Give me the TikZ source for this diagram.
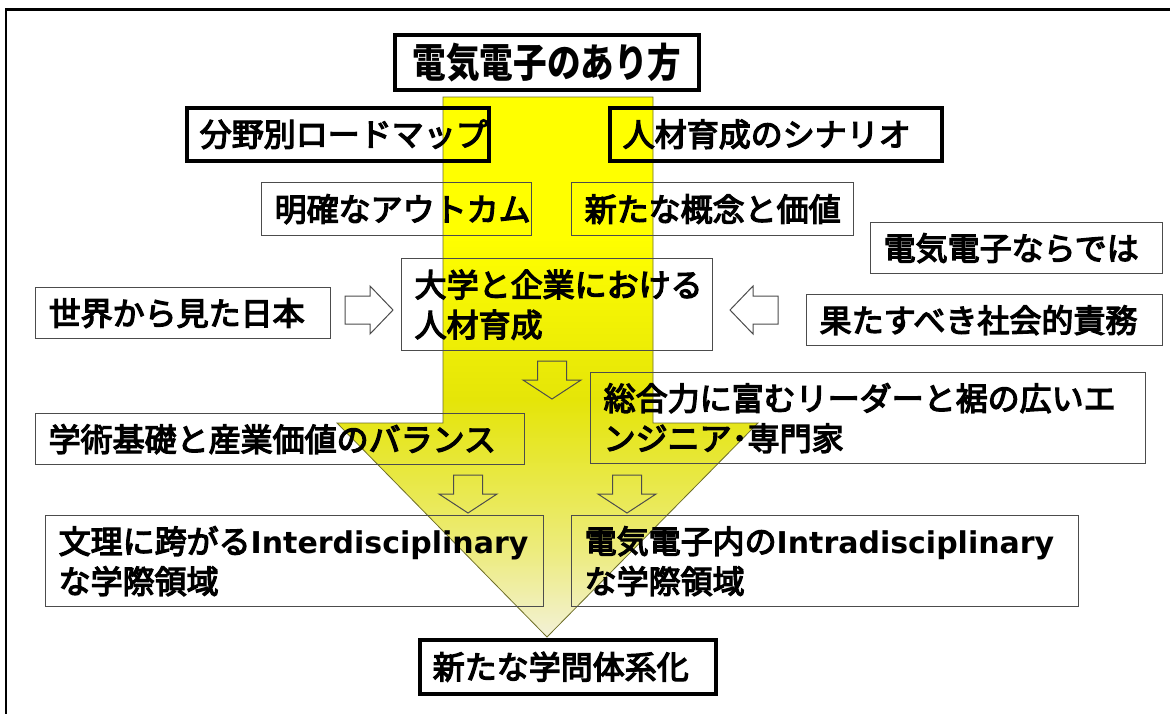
\documentclass[tikz,border=0pt]{standalone}
\usepackage{fontspec}
\setmainfont{Noto Sans CJK JP}
\newfontfamily\jp{Noto Sans CJK JP}[FakeBold=4]
\newfontfamily\jpcond{Noto Sans CJK JP}[FakeStretch=0.84]
\newfontfamily\latb{DejaVu Sans}
\definecolor{ylw}{RGB}{255,255,0}
\definecolor{ymid}{RGB}{229,229,8}
\definecolor{ylow}{RGB}{232,232,66}
\definecolor{ypale}{RGB}{243,241,215}
\definecolor{olive}{RGB}{110,110,40}
\pgfdeclareverticalshading{bigarrow}{100bp}{color(0bp)=(ypale); color(25bp)=(ypale); color(33bp)=(ylow!60!ypale); color(40bp)=(ylow); color(47bp)=(ymid); color(62bp)=(ylw); color(100bp)=(ylw)}
\begin{document}
\begin{tikzpicture}[x=1pt,y=-1pt,
  box/.style={draw=black!70, line width=1.3pt, inner xsep=13pt, inner ysep=0pt,
    anchor=north west, align=left, font=\jp\fontsize{32}{40}\selectfont},
  tbox/.style={box, draw=black, line width=3.5pt},
  hollow/.style={draw=black!70, line width=1pt, line join=miter},
  pics/downarrow/.style={code={\draw[hollow] (-14.5,0) -- (14.5,0) -- (14.5,19) -- (29,19) -- (0,38) -- (-29,19) -- (-14.5,19) -- cycle;}},
  pics/rightarrow/.style={code={\draw[hollow] (0,-14) -- (25,-14) -- (25,-24) -- (48,0) -- (25,24) -- (25,14) -- (0,14) -- cycle;}},
  pics/leftarrow/.style={code={\draw[hollow] (0,-14) -- (-25,-14) -- (-25,-24) -- (-48,0) -- (-25,24) -- (-25,14) -- (0,14) -- cycle;}}
]
\useasboundingbox (0,0) rectangle (1170,713);
\clip (0,0) rectangle (1170,713);
\fill[white] (0,0) rectangle (1170,713);
% outer frame
\draw[line width=2.5pt] (6,720) -- (6,9.5) -- (1180,9.5);
% big arrow
\shade[shading=bigarrow, draw=olive, line width=0.8pt]
  (443,97) -- (653,97) -- (653,423) -- (758,423) -- (547,637) -- (337,423) -- (443,423) -- cycle;
% boxes
\node[tbox, line width=4pt, minimum width=304, minimum height=55, text width=278, align=center,
  font=\jpcond\bfseries\fontsize{40}{44}\selectfont] (title) at (393,33) {電気電子のあり方};
\node[tbox, minimum width=302, minimum height=53, text width=276] (road) at (185,106) {分野別ロードマップ};
\node[tbox, minimum width=332, minimum height=53, text width=306] (scen) at (608,106) {人材育成のシナリオ};
\node[box, minimum width=270, minimum height=53, text width=244] (out) at (261,182) {明確なアウトカム};
\node[box, minimum width=282, minimum height=53, text width=256] (conc) at (571,182) {新たな概念と価値};
\node[box, minimum width=292, minimum height=51, text width=266] (denki) at (870,222) {電気電子ならでは};
\node[box, minimum width=295, minimum height=51, text width=269] (world) at (35,287) {世界から見た日本};
\node[box, minimum width=311, minimum height=92, text width=285] (univ) at (401,258) {大学と企業における\\人材育成};
\node[box, minimum width=356, minimum height=51, text width=330] (duty) at (806,294) {果たすべき社会的責務};
\node[box, minimum width=555, minimum height=91, text width=529] (lead) at (590,372) {総合力に富むリーダーと裾の広いエ\\ンジニア･専門家};
\node[box, minimum width=489, minimum height=51, text width=463] (bal) at (35,413) {学術基礎と産業価値のバランス};
\node[box, minimum width=498, minimum height=91, text width=472, inner xsep=11pt] (inter) at (45,515)
  {文理に跨がる{\latb\bfseries\fontsize{30}{40}\selectfont Interdisciplinary}\\な学際領域};
\node[box, minimum width=507, minimum height=91, text width=481] (intra) at (571,515)
  {電気電子内の{\latb\bfseries\fontsize{30}{40}\selectfont Intradisciplinary}\\な学際領域};
\node[tbox, minimum width=296, minimum height=54, text width=270] (newsys) at (418,638) {新たな学問体系化};
% hollow arrows
\pic at (345,310) {rightarrow};
\pic at (778,310) {leftarrow};
\pic at (552,361) {downarrow};
\pic at (468,475) {downarrow};
\pic at (627,475) {downarrow};
\end{tikzpicture}
\end{document}
